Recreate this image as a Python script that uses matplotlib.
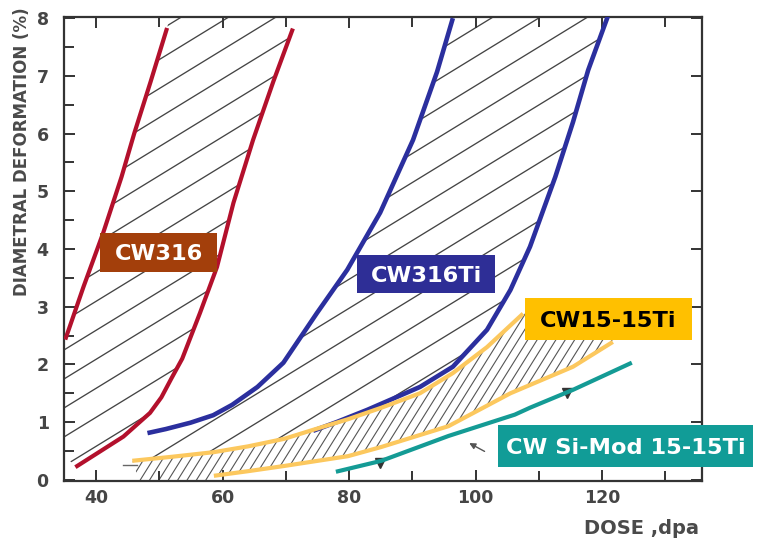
import numpy as np
import matplotlib
matplotlib.use('Agg')
import matplotlib.pyplot as plt
from matplotlib.collections import LineCollection
from matplotlib.patches import Polygon, Rectangle

# ---------------- data ----------------
cw316_left_x = [35.1, 38.0, 41.1, 44.0, 46.0, 48.6, 51.2]
cw316_left_y = [2.43, 3.35, 4.28, 5.25, 6.0, 6.9, 7.83]
cw316_right_x = [36.7, 40.0, 44.3, 48.5, 50.3, 51.9, 53.6, 56.4, 59.1, 61.7, 64.8, 68.0, 71.1]
cw316_right_y = [0.22, 0.45, 0.75, 1.16, 1.43, 1.76, 2.10, 2.89, 3.69, 4.80, 5.89, 6.9, 7.82]

cw316ti_left_x = [48.1, 51.0, 54.9, 58.5, 61.5, 65.5, 69.6, 74.9, 79.7, 84.9, 90.1, 93.9, 96.4]
cw316ti_left_y = [0.81, 0.88, 0.99, 1.12, 1.30, 1.61, 2.03, 2.89, 3.64, 4.63, 5.89, 7.07, 8.0]
cw316ti_right_x = [74.3, 78.0, 82.8, 91.2, 96.4, 101.8, 105.5, 108.6, 112.6, 115.4, 117.8, 121.3]
cw316ti_right_y = [0.85, 1.0, 1.21, 1.61, 1.96, 2.6, 3.29, 4.04, 5.25, 6.2, 7.1, 8.15]

cw1515ti_upper_x = [45.7, 52.0, 58.6, 64.0, 69.7, 74.4, 79.8, 85.1, 91.2, 96.4, 101.8, 107.5]
cw1515ti_upper_y = [0.33, 0.40, 0.48, 0.58, 0.71, 0.87, 1.05, 1.25, 1.50, 1.85, 2.30, 2.88]
cw1515ti_lower_x = [58.6, 64.0, 69.7, 79.8, 85.1, 95.7, 105.5, 115.4, 121.7]
cw1515ti_lower_y = [0.07, 0.15, 0.24, 0.41, 0.57, 0.93, 1.50, 1.96, 2.39]

simod_x = [77.9, 85.1, 95.7, 106.2, 108.6, 115.4, 124.7]
simod_y = [0.14, 0.33, 0.76, 1.13, 1.25, 1.56, 2.03]

marker_x = [84.9, 114.5]
marker_y = [0.29, 1.50]

x_major = [40, 60, 80, 100, 120]
x_minor = [50, 70, 90, 110, 130]
y_major = [0, 1, 2, 3, 4, 5, 6, 7, 8]
y_minor = [0.5, 1.5, 2.5, 3.5, 4.5, 5.5, 6.5, 7.5]

labels = ['CW316', 'CW316Ti', 'CW15-15Ti', 'CW Si-Mod 15-15Ti']

# ---------------- figure ----------------
W, H = 758, 539
fig = plt.figure(figsize=(W / 100, H / 100), dpi=100)
ax_l, ax_r, ax_t, ax_b = 64, 702, 17, 481
ax = fig.add_axes([ax_l / W, 1 - ax_b / H, (ax_r - ax_l) / W, (ax_b - ax_t) / H])
XL = (34.9, 135.8)
YL = (-0.02, 8.02)
ax.set_xlim(*XL)
ax.set_ylim(*YL)

AW, AH = ax_r - ax_l, ax_b - ax_t


def hatch(px, py, angle, step_px, color, lw, phase=0.0):
    patch = Polygon(np.column_stack([px, py]), closed=True,
                    facecolor='none', edgecolor='none')
    ax.add_patch(patch)
    t = np.tan(np.radians(angle))
    cs = np.arange(-AW * t - step_px + phase, AH + step_px, step_px)
    segs = [[(0, c / AH), (1, (c + AW * t) / AH)] for c in cs]
    lc = LineCollection(segs, colors=color, linewidths=lw,
                        transform=ax.transAxes, zorder=1)
    ax.add_collection(lc, autolim=False)
    lc.set_clip_path(patch)


# CW316 band
p1x = [XL[0], XL[0]] + cw316_left_x + [51.8, 71.6] + cw316_right_x[::-1]
p1y = [0.45, 2.43] + cw316_left_y + [8.1, 8.1] + cw316_right_y[::-1]
hatch(p1x, p1y, 31.5, 29, '#444444', 0.95)

# CW316Ti band
ux = np.array(cw1515ti_upper_x)
uy = np.array(cw1515ti_upper_y)
m = ux < 74.0
p2x = cw316ti_left_x + [96.7, 121.6] + cw316ti_right_x[::-1] + list(ux[m][::-1])
p2y = cw316ti_left_y + [8.1, 8.1] + cw316ti_right_y[::-1] + list(uy[m][::-1])
hatch(p2x, p2y, 31.5, 29, '#444444', 0.95, phase=12)

# CW15-15Ti band (dense)
p3x = cw1515ti_upper_x + [110.0, 122.0] + cw1515ti_lower_x[::-1] + [58.0, 46.8]
p3y = cw1515ti_upper_y + [3.0, 2.42] + cw1515ti_lower_y[::-1] + [-0.02, -0.02]
hatch(p3x, p3y, 58, 15, '#555555', 0.8)

# original band edge stub
ax.plot([44.3, 46.5], [0.25, 0.25], color='#666666', lw=1.0, zorder=1)

# curves
red = '#B3102C'
blue = '#2B2F9E'
yel = '#FCC85E'
teal = '#149B95'
kw = dict(solid_capstyle='butt', solid_joinstyle='round', zorder=3)
ax.plot(cw316_left_x, cw316_left_y, color=red, lw=3.0, **kw)
ax.plot(cw316_right_x, cw316_right_y, color=red, lw=3.0, **kw)
ax.plot(cw316ti_left_x, cw316ti_left_y, color=blue, lw=3.3, **kw)
ax.plot(cw316ti_right_x, cw316ti_right_y, color=blue, lw=3.3, **kw)
ax.plot(cw1515ti_upper_x, cw1515ti_upper_y, color=yel, lw=3.0, **kw)
ax.plot(cw1515ti_lower_x, cw1515ti_lower_y, color=yel, lw=3.0, **kw)
ax.plot(simod_x, simod_y, color=teal, lw=3.0, **kw)
ax.plot(marker_x, marker_y, linestyle='none', marker='v', ms=7,
        color='#333333', zorder=2)
ax.annotate('', xy=(98.6, 0.66), xytext=(101.8, 0.47),
            arrowprops=dict(arrowstyle='-|>', color='#555555', lw=1.0,
                            mutation_scale=9), zorder=2)

# axes styling
for s in ax.spines.values():
    s.set_color('#333333')
    s.set_linewidth(1.6)
ax.set_xticks(x_major)
ax.set_xticks(x_minor, minor=True)
ax.set_yticks(y_major)
ax.set_yticks(y_minor, minor=True)
ax.tick_params(which='both', direction='in', top=True, right=True,
               length=8, width=1.4, color='#333333')
ax.tick_params(which='minor', right=False, length=7)
ax.tick_params(axis='x', pad=6)
ax.tick_params(axis='y', pad=11)
for lab in ax.get_xticklabels() + ax.get_yticklabels():
    lab.set_fontsize(12.5)
    lab.set_fontweight('bold')
    lab.set_color('#454545')

fig.text(22 / W, 1 - 152 / H, 'DIAMETRAL DEFORMATION (%)', rotation=90,
         ha='center', va='center', fontsize=12, fontweight='bold',
         color='#4a4a4a')
fig.text(641 / W, 1 - 528 / H, 'DOSE ,dpa', ha='center', va='center',
         fontsize=14, fontweight='bold', color='#4a4a4a')

# label boxes
boxes = [
    (100, 233, 217, 272, '#A33F0B', 'white'),
    (357, 255, 495, 293, '#2E2E96', 'white'),
    (525, 298, 692, 340, '#FFC000', 'black'),
    (498, 425, 753, 467, '#119C97', 'white'),
]
for (x0, y0, x1, y1, fc, tc), txt in zip(boxes, labels):
    fig.add_artist(Rectangle((x0 / W, 1 - y1 / H), (x1 - x0) / W, (y1 - y0) / H,
                             transform=fig.transFigure, facecolor=fc,
                             edgecolor='none', zorder=5))
    fig.text((x0 + x1) / 2 / W, 1 - (y0 + y1) / 2 / H, txt, ha='center',
             va='center_baseline', fontsize=16.2, fontweight='bold', color=tc,
             zorder=6)

fig.savefig('out.png', dpi=100)
